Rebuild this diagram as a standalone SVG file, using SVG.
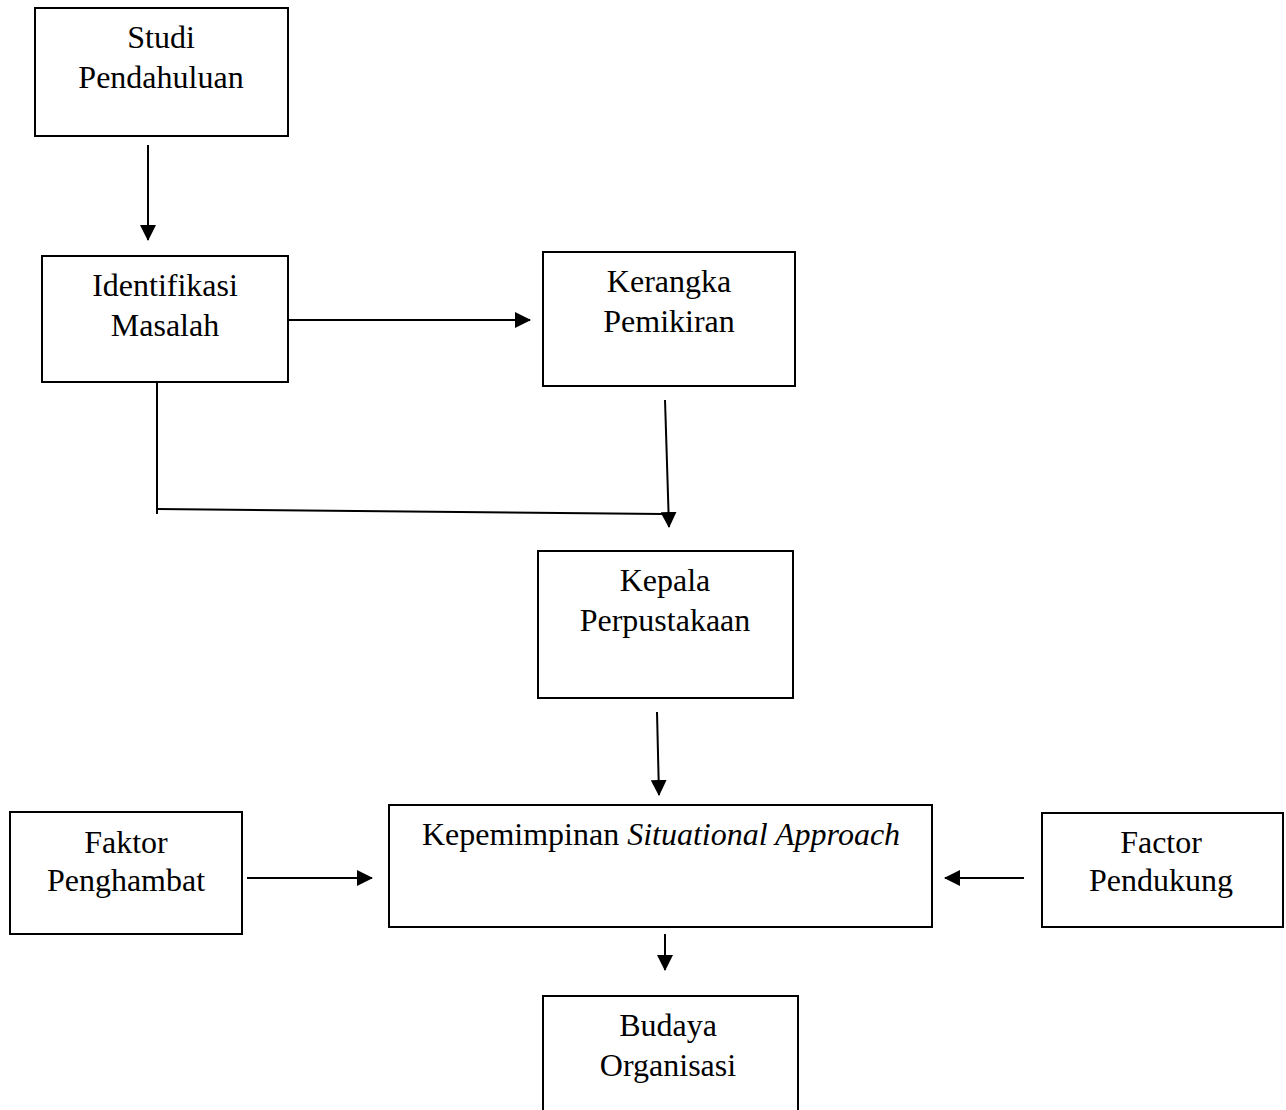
<svg xmlns="http://www.w3.org/2000/svg" width="1286" height="1110" viewBox="0 0 1286 1110">
<style>
.box{fill:#fff;stroke:#000;stroke-width:2}
.t{font-family:"Liberation Serif","Times New Roman",serif;font-size:32px;fill:#000;text-anchor:middle}
.c{stroke:#000;stroke-width:2;fill:none}
</style>
<defs>
<marker id="ah" markerWidth="16" markerHeight="16" refX="15" refY="8" orient="auto" markerUnits="userSpaceOnUse" viewBox="0 0 16 16">
<path d="M0,0 L16,8 L0,16 z" fill="#000"/>
</marker>
</defs>
<rect width="1286" height="1110" fill="#fff"/>
<g id="studi"><rect class="box" x="35" y="8" width="253" height="128"/>
<text class="t" x="161" y="48">Studi</text><text class="t" x="161" y="88">Pendahuluan</text></g>
<g id="identifikasi"><rect class="box" x="42" y="256" width="246" height="126"/>
<text class="t" x="165" y="296">Identifikasi</text><text class="t" x="165" y="336">Masalah</text></g>
<g id="kerangka"><rect class="box" x="543" y="252" width="252" height="134"/>
<text class="t" x="669" y="292">Kerangka</text><text class="t" x="669" y="332">Pemikiran</text></g>
<g id="kepala"><rect class="box" x="538" y="551" width="255" height="147"/>
<text class="t" x="665" y="591">Kepala</text><text class="t" x="665" y="631">Perpustakaan</text></g>
<g id="kepemimpinan"><rect class="box" x="389" y="805" width="543" height="122"/>
<text class="t" x="661" y="845">Kepemimpinan <tspan font-style="italic">Situational Approach</tspan></text></g>
<g id="penghambat"><rect class="box" x="10" y="812" width="232" height="122"/>
<text class="t" x="126" y="853">Faktor</text><text class="t" x="126" y="891">Penghambat</text></g>
<g id="pendukung"><rect class="box" x="1042" y="813" width="241" height="114"/>
<text class="t" x="1161" y="853">Factor</text><text class="t" x="1161" y="891">Pendukung</text></g>
<g id="budaya"><path class="box" d="M543,1112 V996 H798 V1112"/>
<text class="t" x="668" y="1036">Budaya</text><text class="t" x="668" y="1076">Organisasi</text></g>
<g id="connectors">
<line class="c" x1="148" y1="145" x2="148" y2="240" marker-end="url(#ah)"/>
<line class="c" x1="288" y1="320" x2="530" y2="320" marker-end="url(#ah)"/>
<line class="c" x1="665" y1="400" x2="669" y2="527" marker-end="url(#ah)"/>
<polyline class="c" points="157,382 157,514"/>
<line class="c" x1="157" y1="509" x2="663" y2="514"/>
<line class="c" x1="657" y1="712" x2="659" y2="795" marker-end="url(#ah)"/>
<line class="c" x1="247" y1="878" x2="372" y2="878" marker-end="url(#ah)"/>
<line class="c" x1="1024" y1="878" x2="945" y2="878" marker-end="url(#ah)"/>
<line class="c" x1="665" y1="934" x2="665" y2="970" marker-end="url(#ah)"/>
</g>
</svg>
